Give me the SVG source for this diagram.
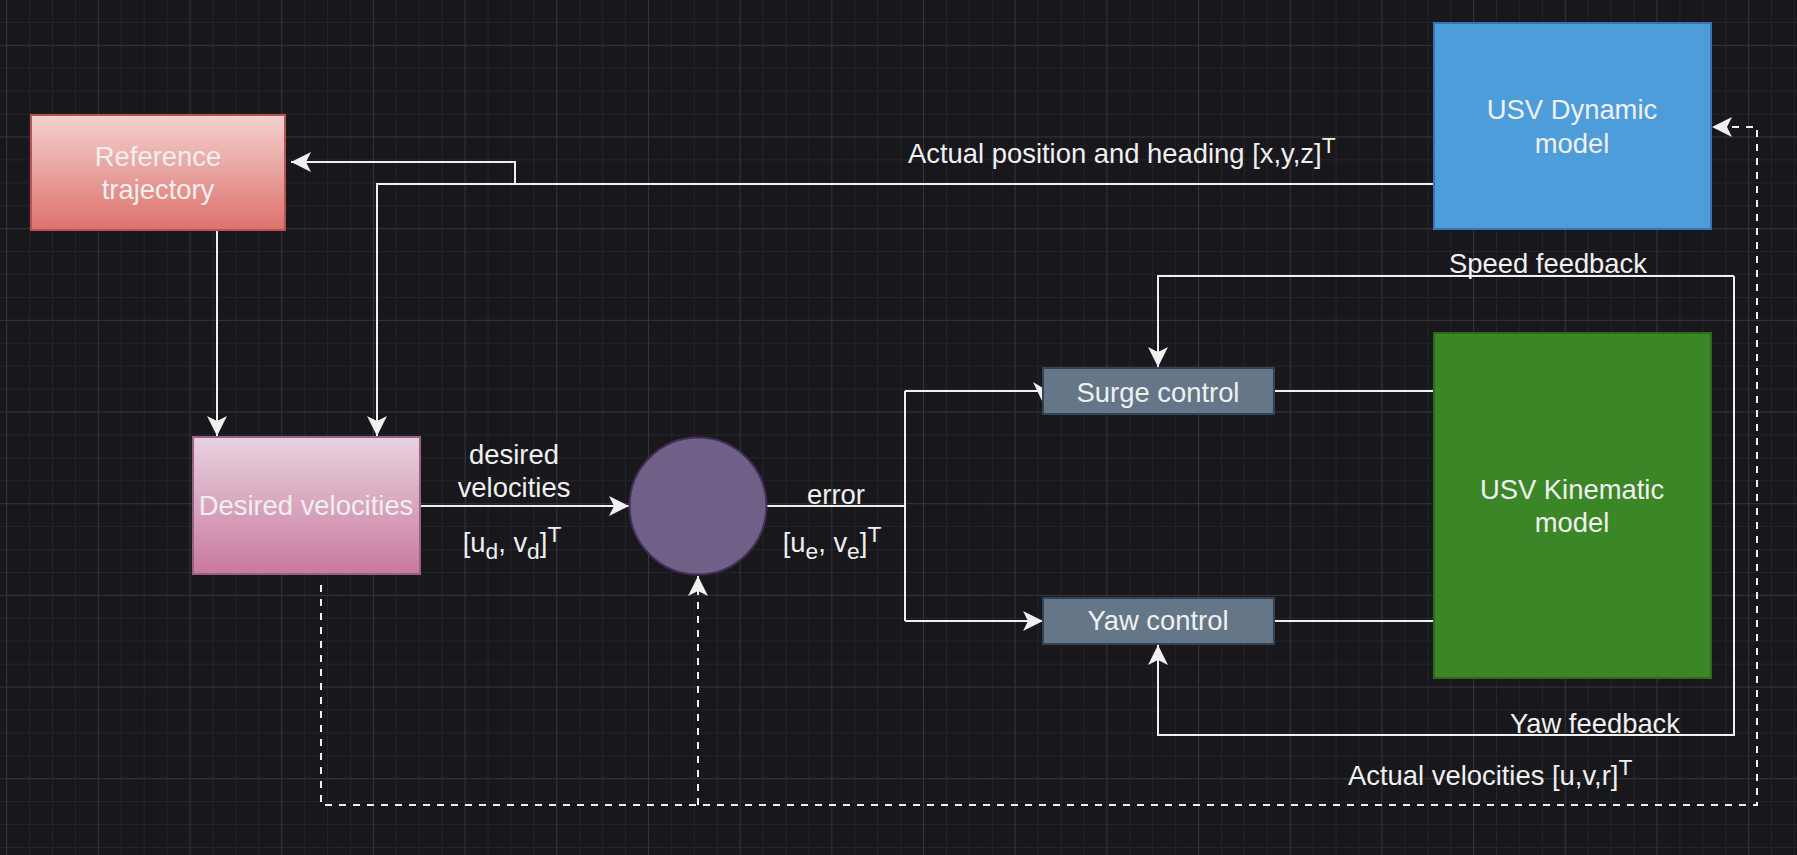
<svg xmlns="http://www.w3.org/2000/svg" width="1797" height="855" viewBox="0 0 1797 855">
<defs>
<pattern id="grid" patternUnits="userSpaceOnUse" x="6.2" y="44.8" width="91.68" height="91.68">
<rect x="0" y="0" width="91.68" height="91.68" fill="#18171c"/>
<g fill="#25242a">
<rect x="22.92" y="0" width="1" height="91.68"/>
<rect x="45.84" y="0" width="1" height="91.68"/>
<rect x="68.76" y="0" width="1" height="91.68"/>
<rect x="0" y="22.92" width="91.68" height="1"/>
<rect x="0" y="45.84" width="91.68" height="1"/>
<rect x="0" y="68.76" width="91.68" height="1"/>
</g>
<g fill="#36353b">
<rect x="0" y="0" width="1" height="91.68"/>
<rect x="0" y="0" width="91.68" height="1"/>
</g>
</pattern>
<linearGradient id="gRef" x1="0" y1="0" x2="0" y2="1">
<stop offset="0" stop-color="#f3d2cf"/>
<stop offset="1" stop-color="#dd716c"/>
</linearGradient>
<linearGradient id="gDv" x1="0" y1="0" x2="0" y2="1">
<stop offset="0" stop-color="#e7d2df"/>
<stop offset="1" stop-color="#c97a9c"/>
</linearGradient>
<marker id="arr" viewBox="0 0 20 20" refX="20" refY="10" markerWidth="20" markerHeight="20" markerUnits="userSpaceOnUse" orient="auto">
<path d="M0,0 L20,10 L0,20 L5,10 Z" fill="#f0f0f0"/>
</marker>
</defs>
<style>
.t{font-family:"Liberation Sans",Arial,Helvetica,sans-serif;font-size:27.4px;fill:#f0f0f0}
.m{text-anchor:middle}
.s{font-size:22.8px}
.ln{fill:none;stroke:#f0f0f0;stroke-width:2}
.d{stroke-dasharray:7 7}
</style>
<rect x="0" y="0" width="1797" height="855" fill="url(#grid)"/>

<g id="connectors">
<path class="ln" d="M217,230 L217,436" marker-end="url(#arr)"/>
<path class="ln" d="M1434,184 L377,184 L377,436" marker-end="url(#arr)"/>
<path class="ln" d="M515,184 L515,162 L291,162" marker-end="url(#arr)"/>
<path class="ln" d="M420,506 L629,506" marker-end="url(#arr)"/>
<path class="ln" d="M767,506 L905,506"/>
<path class="ln" d="M905,391 L905,621"/>
<path class="ln" d="M905,391 L1038,391"/>
<polygon points="1033,382 1043,388 1054,382 1043,403" fill="#f0f0f0"/>
<path class="ln" d="M905,621 L1043,621" marker-end="url(#arr)"/>
<path class="ln" d="M1274,391 L1434,391"/>
<path class="ln" d="M1274,621 L1434,621"/>
<path class="ln" d="M1734,276 L1158,276 L1158,367" marker-end="url(#arr)"/>
<path class="ln" d="M1734,276 L1734,735 L1158,735 L1158,645" marker-end="url(#arr)"/>
<path class="ln d" d="M321,585 L321,805 L1757,805 L1757,127 L1712,127" marker-end="url(#arr)"/>
<path class="ln d" d="M698,805 L698,576" marker-end="url(#arr)"/>
</g>

<g id="reference-trajectory">
<rect x="31" y="115" width="254" height="115" fill="url(#gRef)" stroke="#b85450" stroke-width="2"/>
<text class="t m" x="158" y="166">Reference</text>
<text class="t m" x="158" y="199">trajectory</text>
</g>

<g id="desired-velocities">
<rect x="193" y="437" width="227" height="137" fill="url(#gDv)" stroke="#996185" stroke-width="2"/>
<text class="t m" x="306" y="515">Desired velocities</text>
</g>

<g id="summing-junction">
<circle cx="698" cy="506" r="68.5" fill="#6f6088" stroke="#432d57" stroke-width="2"/>
</g>

<g id="surge-control">
<rect x="1043" y="368" width="231" height="46" fill="#647687" stroke="#314354" stroke-width="2"/>
<text class="t m" x="1158" y="402">Surge control</text>
</g>

<g id="yaw-control">
<rect x="1043" y="598" width="231" height="46" fill="#647687" stroke="#314354" stroke-width="2"/>
<text class="t m" x="1158" y="630">Yaw control</text>
</g>

<g id="usv-dynamic-model">
<rect x="1434" y="23" width="277" height="206" fill="#4e9ddb" stroke="#3a74ad" stroke-width="2"/>
<text class="t m" x="1572" y="119">USV Dynamic</text>
<text class="t m" x="1572" y="153">model</text>
</g>

<g id="usv-kinematic-model">
<rect x="1434" y="333" width="277" height="345" fill="#3b8727" stroke="#2d6a1e" stroke-width="2"/>
<text class="t m" x="1572" y="499">USV Kinematic</text>
<text class="t m" x="1572" y="532">model</text>
</g>

<g id="labels">
<text class="t" x="908" y="163">Actual position and heading [x,y,z]<tspan class="s" dy="-10">T</tspan></text>
<text class="t m" x="514" y="464">desired</text>
<text class="t m" x="514" y="497">velocities</text>
<text class="t m" x="512" y="552">[u<tspan class="s" dy="7">d</tspan><tspan dy="-7">, v</tspan><tspan class="s" dy="7">d</tspan><tspan dy="-7">]</tspan><tspan class="s" dy="-10">T</tspan></text>
<text class="t m" x="836" y="504">error</text>
<text class="t m" x="832" y="552">[u<tspan class="s" dy="7">e</tspan><tspan dy="-7">, v</tspan><tspan class="s" dy="7">e</tspan><tspan dy="-7">]</tspan><tspan class="s" dy="-10">T</tspan></text>
<text class="t m" x="1548" y="273">Speed feedback</text>
<text class="t m" x="1595" y="733">Yaw feedback</text>
<text class="t" x="1348" y="785">Actual velocities [u,v,r]<tspan class="s" dy="-10">T</tspan></text>
</g>
</svg>
